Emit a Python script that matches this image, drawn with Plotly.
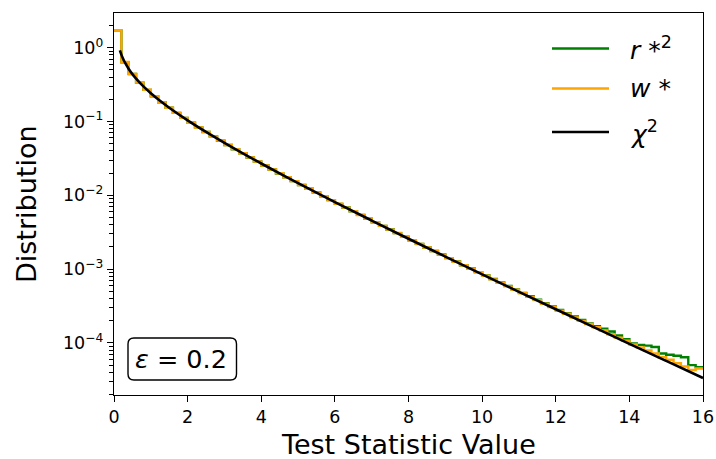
import numpy as np
import plotly.graph_objects as go

# Histogram bins: 80 bins of width 0.2 covering [0, 16]
bin_width = 0.2
n_bins = 80
bin_edges = np.round(np.arange(n_bins + 1) * bin_width, 1)

# Normalised histogram heights of r*^2
r_star_sq = [
    1.72, 0.637, 0.441, 0.337, 0.269, 0.219, 0.183, 0.154, 0.131, 0.112,
    0.0962, 0.0834, 0.0722, 0.0630, 0.0549, 0.0482, 0.0422, 0.0372, 0.0326, 0.0288,
    0.0254, 0.0224, 0.0198, 0.0176, 0.0156, 0.0138, 0.0123, 0.0109, 0.00968, 0.00862,
    0.00766, 0.00683, 0.00609, 0.00543, 0.00484, 0.00432, 0.00385, 0.00344, 0.00307, 0.00275,
    0.00245, 0.00220, 0.00196, 0.00176, 0.00158, 0.00141, 0.00127, 0.00113, 0.00102, 0.000910,
    0.000818, 0.000733, 0.000660, 0.000592, 0.000532, 0.000476, 0.000428, 0.000386, 0.000346, 0.000312,
    0.000280, 0.000252, 0.000228, 0.000205, 0.000184, 0.000168, 0.000156, 0.000143, 0.000126, 0.000112,
    0.0000980, 0.0000940, 0.0000920, 0.0000880, 0.0000720, 0.0000690, 0.0000670, 0.0000640, 0.0000500, 0.0000470,
]

# Normalised histogram heights of w*
w_star = [
    1.73, 0.640, 0.443, 0.338, 0.270, 0.220, 0.183, 0.154, 0.131, 0.112,
    0.0965, 0.0832, 0.0725, 0.0630, 0.0551, 0.0482, 0.0423, 0.0371, 0.0327, 0.0288,
    0.0254, 0.0224, 0.0199, 0.0176, 0.0156, 0.0138, 0.0123, 0.0109, 0.00970, 0.00862,
    0.00768, 0.00682, 0.00610, 0.00542, 0.00485, 0.00431, 0.00386, 0.00343, 0.00308, 0.00274,
    0.00246, 0.00219, 0.00196, 0.00176, 0.00157, 0.00141, 0.00126, 0.00113, 0.00101, 0.000905,
    0.000812, 0.000726, 0.000652, 0.000583, 0.000525, 0.000470, 0.000420, 0.000380, 0.000340, 0.000306,
    0.000273, 0.000248, 0.000221, 0.000199, 0.000180, 0.000163, 0.000147, 0.000131, 0.000118, 0.000107,
    0.0000950, 0.0000870, 0.0000790, 0.0000720, 0.0000640, 0.0000590, 0.0000530, 0.0000480, 0.0000430, 0.0000450,
]

# Reference chi-squared density (1 degree of freedom)
chi2_x = [0.16, 0.2, 0.25, 0.3, 0.4, 0.5, 0.6, 0.8, 1.0, 1.25, 1.5, 2.0, 2.5, 3.0, 3.5,
          4.0, 5.0, 6.0, 7.0, 8.0, 9.0, 10.0, 11.0, 12.0, 13.0, 14.0, 15.0, 16.0]
chi2_y = [0.9207, 0.8072, 0.7041, 0.6269, 0.5164, 0.4394, 0.3815, 0.2990, 0.2420, 0.1910,
          0.1539, 0.1038, 0.0723, 0.05139, 0.03706, 0.02700, 0.01465, 0.008109, 0.004553,
          0.002583, 0.001477, 0.000850, 0.0004916, 0.0002855, 0.0001664, 0.0000972,
          0.0000570, 0.0000335]

series_labels = ["<i>r</i> *<sup>2</sup>", "<i>w</i> *", "<i>χ</i><sup>2</sup>"]
series_colors = ["green", "orange", "black"]

y_tick_vals = [1, 0.1, 0.01, 0.001, 0.0001]
y_tick_text = ["10<sup>0</sup>", "10<sup>\u22121</sup>", "10<sup>\u22122</sup>",
               "10<sup>\u22123</sup>", "10<sup>\u22124</sup>"]
y_minor_vals = [k * 10.0 ** e for e in range(-5, 1) for k in range(2, 10)]

annotation_text = "<i>ε</i> = 0.2"

FONT = "DejaVu Sans"

fig = go.Figure()


def step_trace(values, color):
    # histtype='step' style outline: hold each bin height across its width
    ys = list(values) + [values[-1]]
    return go.Scatter(x=bin_edges, y=ys, mode="lines", line_shape="hv",
                      line=dict(color=color, width=2.4), showlegend=False,
                      hoverinfo="skip")


fig.add_trace(step_trace(r_star_sq, series_colors[0]))
fig.add_trace(step_trace(w_star, series_colors[1]))
fig.add_trace(go.Scatter(x=chi2_x, y=chi2_y, mode="lines", line_shape="spline",
                         line=dict(color=series_colors[2], width=2.6),
                         showlegend=False, hoverinfo="skip"))

W, H = 716, 459
L, R, T, B = 114, 13, 13, 64
pw, ph = W - L - R, H - T - B


def px_x(px):
    return (px - L) / pw


def px_y(py):
    return (H - B - py) / ph


shapes = []
annotations = []

# Legend drawn in the upper right corner
legend_rows = [48.5, 88.5, 132]
for label, color, row in zip(series_labels, series_colors, legend_rows):
    shapes.append(dict(type="line", xref="paper", yref="paper",
                       x0=px_x(552), x1=px_x(609), y0=px_y(row), y1=px_y(row),
                       line=dict(color=color, width=2.6)))
    annotations.append(dict(xref="paper", yref="paper", x=px_x(628), y=px_y(row),
                            xanchor="left", yanchor="middle", text=label,
                            showarrow=False, font=dict(family=FONT, size=25, color="black")))

# Rounded text box with epsilon value
bx0, bx1 = px_x(128), px_x(236.5)
by0, by1 = px_y(380), px_y(338)
rx, ry = 6 / pw, 6 / ph
box_path = (f"M {bx0 + rx},{by0} L {bx1 - rx},{by0} Q {bx1},{by0} {bx1},{by0 + ry} "
            f"L {bx1},{by1 - ry} Q {bx1},{by1} {bx1 - rx},{by1} "
            f"L {bx0 + rx},{by1} Q {bx0},{by1} {bx0},{by1 - ry} "
            f"L {bx0},{by0 + ry} Q {bx0},{by0} {bx0 + rx},{by0} Z")
shapes.append(dict(type="path", xref="paper", yref="paper", path=box_path,
                   line=dict(color="black", width=1.4), fillcolor="white"))
annotations.append(dict(xref="paper", yref="paper", x=px_x(181), y=px_y(359),
                        xanchor="center", yanchor="middle", text=annotation_text,
                        showarrow=False, font=dict(family=FONT, size=25.5, color="black")))

# Axis titles
annotations.append(dict(xref="paper", yref="paper", x=0.5, y=px_y(444),
                        xanchor="center", yanchor="middle", text="Test Statistic Value",
                        showarrow=False, font=dict(family=FONT, size=27, color="black")))
annotations.append(dict(xref="paper", yref="paper", x=px_x(26), y=0.5,
                        xanchor="center", yanchor="middle", text="Distribution",
                        textangle=-90, showarrow=False,
                        font=dict(family=FONT, size=27, color="black")))

fig.update_layout(
    width=W, height=H,
    margin=dict(l=L, r=R, t=T, b=B, pad=0, autoexpand=False),
    paper_bgcolor="white", plot_bgcolor="white",
    font=dict(family=FONT, size=17.5, color="black"),
    shapes=shapes, annotations=annotations,
    showlegend=False,
)

fig.update_xaxes(
    range=[0, 16], dtick=2, tick0=0, automargin=False,
    showgrid=False, zeroline=False,
    showline=True, linecolor="black", linewidth=1.4, mirror=True,
    ticks="outside", ticklen=6, tickwidth=1.4, tickcolor="black",
    tickfont=dict(family=FONT, size=17.5, color="black"),
)

fig.update_yaxes(
    type="log", range=[-4.706, 0.471], automargin=False,
    tickmode="array", tickvals=y_tick_vals, ticktext=y_tick_text,
    showgrid=False, zeroline=False,
    showline=True, linecolor="black", linewidth=1.4, mirror=True,
    ticks="outside", ticklen=6, tickwidth=1.4, tickcolor="black",
    tickfont=dict(family=FONT, size=17.5, color="black"),
    minor=dict(tickmode="array", tickvals=y_minor_vals, ticks="outside",
               ticklen=3.5, tickwidth=1.0, tickcolor="black", showgrid=False),
)

fig.write_html("out.html")
